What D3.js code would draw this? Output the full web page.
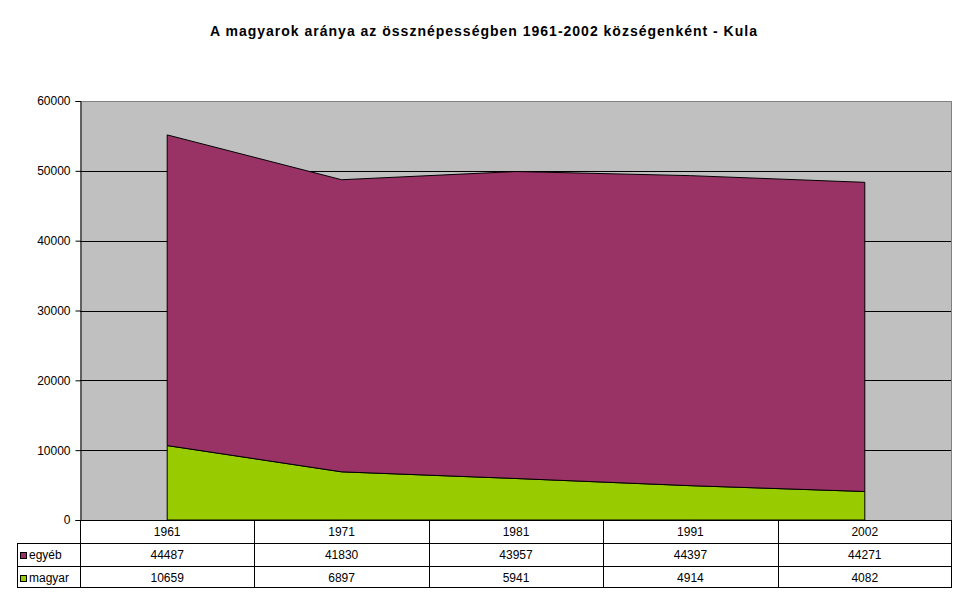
<!DOCTYPE html>
<html>
<head>
<meta charset="utf-8">
<title>Kula</title>
<script src="https://d3js.org/d3.v7.min.js"></script>
<style>
  body { margin: 0; background: #fff; }
  text { font-family: Arial, "Liberation Sans", sans-serif; fill: #000; }
</style>
</head>
<body>
<svg id="chart"></svg>
<script>
// data
const years = ["1961", "1971", "1981", "1991", "2002"];
const magyar = [10659, 6897, 5941, 4914, 4082];
const egyeb = [44487, 41830, 43957, 44397, 44271];
const seriesNames = ["egyéb", "magyar"];
const yTicks = [0, 10000, 20000, 30000, 40000, 50000, 60000];

const W = 968, H = 604;
const plotL = 80, plotR = 952, plotT = 101, plotB = 520;

const svg = d3.select('#chart').attr('width', W).attr('height', H);

svg.append('text')
    .attr('x', 484).attr('y', 36)
    .attr('text-anchor', 'middle')
    .attr('font-size', '14px')
    .attr('letter-spacing', '1px')
    .attr('font-weight', 'bold')
    .text('A magyarok aránya az össznépességben 1961-2002 községenként - Kula');

const x = d3.scaleBand().domain(years).range([plotL, plotR]);
const cx = d => x(d) + x.bandwidth() / 2;
const y = d3.scaleLinear().domain([0, 60000]).range([plotB, plotT]);

// plot background
svg.append('rect')
    .attr('x', plotL).attr('y', plotT)
    .attr('width', plotR - plotL).attr('height', plotB - plotT)
    .attr('fill', '#C0C0C0');

// grid lines
svg.append('g').selectAll('line')
    .data(yTicks.slice(1, -1))
    .join('line')
    .attr('x1', plotL).attr('x2', plotR)
    .attr('y1', d => Math.round(y(d)) + 0.5).attr('y2', d => Math.round(y(d)) + 0.5)
    .attr('stroke', '#000');

// plot border (top/right gray)
svg.append('path')
    .attr('d', `M${plotL},${plotT + 0.5}H${plotR - 0.5}V${plotB}`)
    .attr('fill', 'none').attr('stroke', '#808080');

// stacked areas
const rows = years.map((yr, i) => ({ year: yr, magyar: magyar[i], egyeb: egyeb[i] }));
const stack = d3.stack().keys(["magyar", "egyeb"]);
const layers = stack(rows);
const colors = { magyar: '#99CC00', egyeb: '#993366' };

const area = d3.area()
    .x(d => cx(d.data.year))
    .y0(d => y(d[0]))
    .y1(d => y(d[1]));

svg.append('g').selectAll('path')
    .data(layers)
    .join('path')
    .attr('d', area)
    .attr('fill', d => colors[d.key])
    .attr('stroke', '#000')
    .attr('stroke-width', 1);

// y axis
const yAxis = d3.axisLeft(y).tickValues(yTicks).tickSize(5).tickFormat(d3.format('d'));
const ya = svg.append('g').attr('transform', `translate(${plotL + 0.5},0)`).call(yAxis);
ya.select('.domain').attr('stroke', '#000');
ya.selectAll('.tick line').attr('stroke', '#000');
ya.selectAll('.tick text')
    .attr('x', -10)
    .attr('font-size', '12px')
    .attr('font-family', 'Arial, "Liberation Sans", sans-serif');

// data table
const rowY = [plotB, plotB + 23, plotB + 46, plotB + 67];
const tableL = 17;
const t = svg.append('g').attr('stroke', '#000').attr('fill', 'none');

t.append('line').attr('x1', plotL).attr('x2', plotR).attr('y1', rowY[0] + 0.5).attr('y2', rowY[0] + 0.5);
[1, 2, 3].forEach(i => {
  t.append('line').attr('x1', tableL).attr('x2', plotR)
      .attr('y1', rowY[i] + 0.5).attr('y2', rowY[i] + 0.5);
});
const boundaries = years.map(d => x(d)).concat([plotR - 1]);
boundaries.forEach(bx => {
  t.append('line')
      .attr('x1', Math.round(bx) + 0.5).attr('x2', Math.round(bx) + 0.5)
      .attr('y1', rowY[0]).attr('y2', rowY[3] + 1);
});
t.append('line').attr('x1', tableL + 0.5).attr('x2', tableL + 0.5)
    .attr('y1', rowY[1]).attr('y2', rowY[3] + 1);

// year header
svg.append('g').selectAll('text')
    .data(years)
    .join('text')
    .attr('x', d => cx(d)).attr('y', rowY[0] + 16)
    .attr('text-anchor', 'middle')
    .attr('font-size', '12px')
    .text(d => d);

const tableSeries = [
  { name: seriesNames[0], values: egyeb, color: colors.egyeb },
  { name: seriesNames[1], values: magyar, color: colors.magyar }
];
tableSeries.forEach((s, r) => {
  const ry = rowY[r + 1];
  const g = svg.append('g');
  g.append('rect')
      .attr('x', 20.5).attr('y', ry + 9.5)
      .attr('width', 6).attr('height', 6)
      .attr('fill', s.color).attr('stroke', '#000');
  g.append('text')
      .attr('x', 29).attr('y', ry + 16)
      .attr('font-size', '12px')
      .text(s.name);
  g.selectAll('text.v')
      .data(s.values)
      .join('text')
      .attr('class', 'v')
      .attr('x', (d, i) => cx(years[i])).attr('y', ry + 16)
      .attr('text-anchor', 'middle')
      .attr('font-size', '12px')
      .text(d => d);
});
</script>
</body>
</html>
